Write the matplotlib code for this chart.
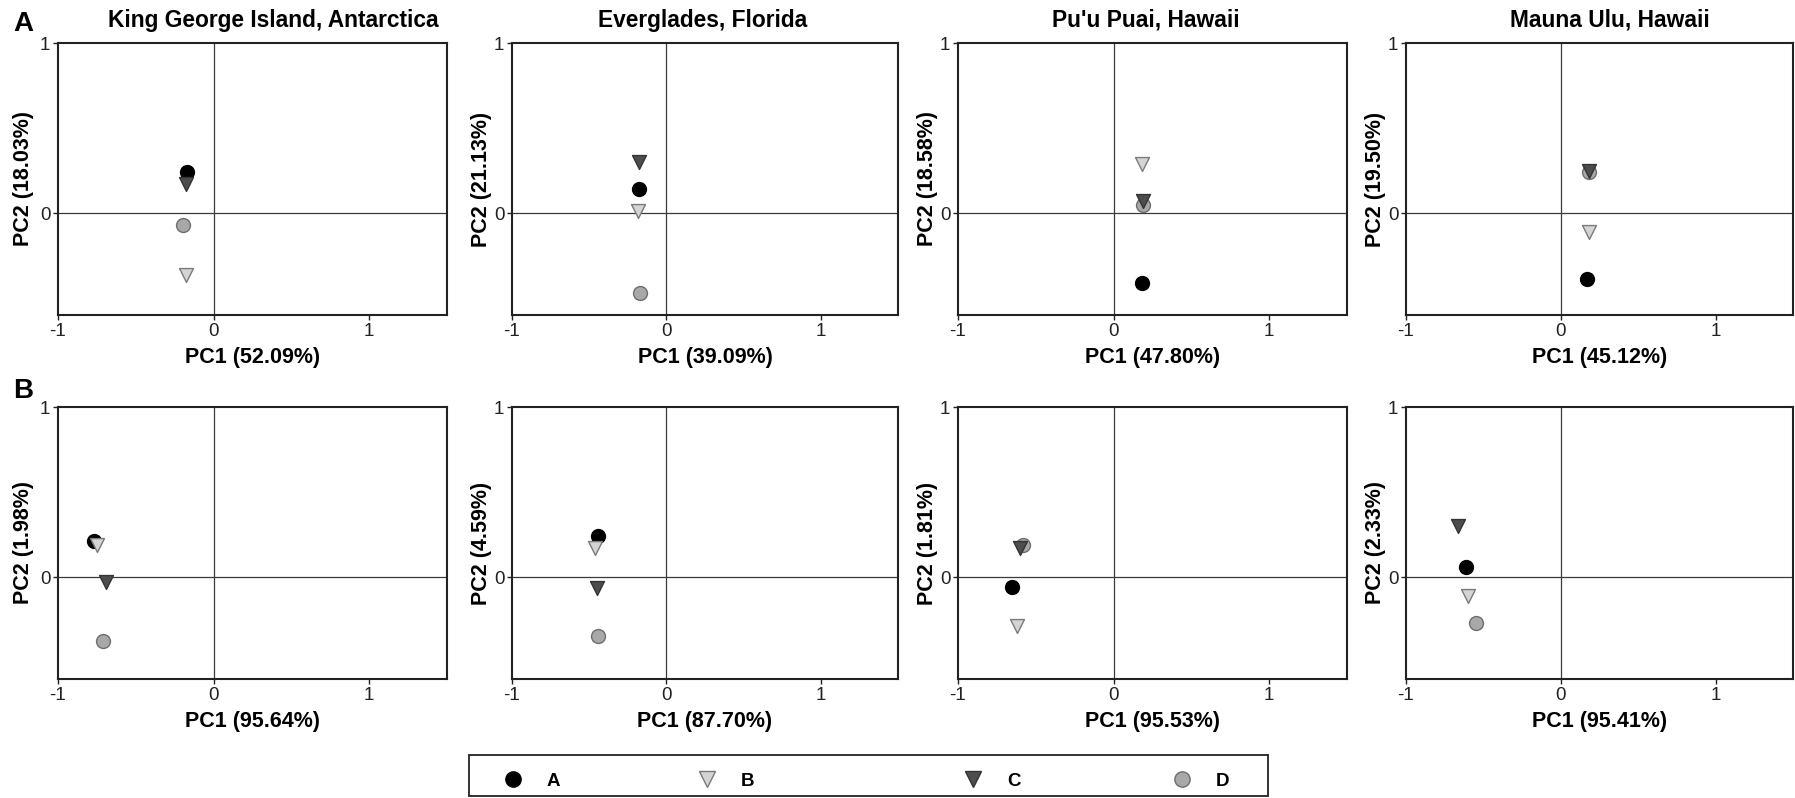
import matplotlib
matplotlib.use("Agg")
import matplotlib.pyplot as plt
from matplotlib.lines import Line2D
from matplotlib.patches import Rectangle

plt.rcParams['font.family'] = ['Liberation Sans', 'DejaVu Sans']

# ---------------- data ----------------
sites = ["King George Island, Antarctica", "Everglades, Florida",
         "Pu'u Puai, Hawaii", "Mauna Ulu, Hawaii"]
categories = ["A", "B", "C", "D"]

rowA_pc1_pct = [52.09, 39.09, 47.80, 45.12]
rowA_pc2_pct = [18.03, 21.13, 18.58, 19.50]
rowB_pc1_pct = [95.64, 87.70, 95.53, 95.41]
rowB_pc2_pct = [1.98, 4.59, 1.81, 2.33]

# Row A scores (one value per site)
rowA_A_x = [-0.17, -0.177, 0.183, 0.172]
rowA_A_y = [0.24, 0.14, -0.41, -0.39]
rowA_B_x = [-0.18, -0.185, 0.185, 0.18]
rowA_B_y = [-0.365, 0.01, 0.29, -0.11]
rowA_C_x = [-0.18, -0.179, 0.189, 0.18]
rowA_C_y = [0.17, 0.30, 0.07, 0.245]
rowA_D_x = [-0.195, -0.172, 0.19, 0.18]
rowA_D_y = [-0.07, -0.47, 0.05, 0.24]

# Row B scores
rowB_A_x = [-0.77, -0.44, -0.65, -0.615]
rowB_A_y = [0.21, 0.24, -0.06, 0.056]
rowB_B_x = [-0.75, -0.46, -0.62, -0.60]
rowB_B_y = [0.19, 0.17, -0.29, -0.11]
rowB_C_x = [-0.69, -0.45, -0.60, -0.665]
rowB_C_y = [-0.03, -0.065, 0.17, 0.30]
rowB_D_x = [-0.71, -0.44, -0.585, -0.55]
rowB_D_y = [-0.375, -0.345, 0.19, -0.27]

x_ticks = [-1, 0, 1]
y_ticks = [0, 1]

# ---------------- styles ----------------
styles = {
    "A": dict(marker="o", facecolor="#000000", edgecolor="#000000"),
    "B": dict(marker="v", facecolor="#d4d4d4", edgecolor="#7a7a7a"),
    "C": dict(marker="v", facecolor="#4d4d4d", edgecolor="#333333"),
    "D": dict(marker="o", facecolor="#a8a8a8", edgecolor="#6e6e6e"),
}
draw_order = ["A", "D", "B", "C"]

W, H = 1795, 798
fig = plt.figure(figsize=(W / 100, H / 100), dpi=100)

col_l = [58, 512, 958, 1406]
col_r = [447, 898, 1347, 1793]
row_t = [43, 407]
row_b = [315, 679]
ylab_off = [35, 30, 30, 31]
title_cx = [273, 703, 1146, 1610]

rows = [
    dict(x={"A": rowA_A_x, "B": rowA_B_x, "C": rowA_C_x, "D": rowA_D_x},
         y={"A": rowA_A_y, "B": rowA_B_y, "C": rowA_C_y, "D": rowA_D_y},
         p1=rowA_pc1_pct, p2=rowA_pc2_pct),
    dict(x={"A": rowB_A_x, "B": rowB_B_x, "C": rowB_C_x, "D": rowB_D_x},
         y={"A": rowB_A_y, "B": rowB_B_y, "C": rowB_C_y, "D": rowB_D_y},
         p1=rowB_pc1_pct, p2=rowB_pc2_pct),
]

for r, rd in enumerate(rows):
    for c in range(4):
        l, rr = col_l[c], col_r[c]
        t, b = row_t[r], row_b[r]
        ax = fig.add_axes([l / W, 1 - b / H, (rr - l) / W, (b - t) / H])
        ax.set_xlim(-1, 1.5)
        ax.set_ylim(-0.6, 1)
        ax.axhline(0, color="#3a3a3a", lw=0.9, zorder=1)
        ax.axvline(0, color="#3a3a3a", lw=0.9, zorder=1)
        for k in draw_order:
            st = styles[k]
            ax.scatter([rd["x"][k][c]], [rd["y"][k][c]], s=100,
                       marker=st["marker"], facecolor=st["facecolor"],
                       edgecolor=st["edgecolor"], linewidth=1.0, zorder=3)
        ax.set_xticks(x_ticks)
        ax.set_yticks(y_ticks)
        ax.set_xticklabels([str(v) for v in x_ticks])
        ax.set_yticklabels([str(v) for v in y_ticks])
        ax.tick_params(axis="both", direction="out", length=3.5, width=1,
                       labelsize=13.5, colors="#222222", pad=2)
        for sp in ax.spines.values():
            sp.set_linewidth(1.5)
            sp.set_color("#222222")
        ax.set_xlabel(f"PC1 ({rd['p1'][c]:.2f}%)", fontsize=15.5, fontweight="bold")
        ax.set_ylabel(f"PC2 ({rd['p2'][c]:.2f}%)", fontsize=15.5, fontweight="bold")
        ax.xaxis.set_label_coords(0.5, -43 / (b - t))
        ax.yaxis.set_label_coords(-ylab_off[c] / (rr - l), 0.5)
        ax.xaxis.label.set_va("center")
        ax.yaxis.label.set_va("center")
        if r == 0:
            fig.text(title_cx[c] / W, 1 - 20 / H, sites[c], ha="center",
                     va="center", fontsize=16.4, fontweight="bold")

fig.text(23 / W, 1 - 24 / H, "A", ha="center", va="center",
         fontsize=20, fontweight="bold")
fig.text(23 / W, 1 - 391 / H, "B", ha="center", va="center",
         fontsize=20, fontweight="bold")

# legend box
fig.patches.append(Rectangle((469 / W, 1 - 796 / H), (1268 - 469) / W,
                             (796 - 755) / H, transform=fig.transFigure,
                             fill=False, edgecolor="#222222", lw=1.3))
leg_marker_x = [512.7, 706.7, 972.7, 1181.7]
for k, mx in zip(categories, leg_marker_x):
    st = styles[k]
    proxy = Line2D([], [], linestyle="none", marker=st["marker"],
                   markerfacecolor=st["facecolor"],
                   markeredgecolor=st["edgecolor"], markersize=11)
    fig.legend(handles=[proxy], labels=[k], loc="center left",
               bbox_to_anchor=((mx - 9) / W, 1 - 781 / H),
               frameon=False, borderpad=0, borderaxespad=0,
               handlelength=1.0, handletextpad=1.3,
               prop=dict(size=13.5, weight="bold"))

fig.savefig("out.png", dpi=100)
